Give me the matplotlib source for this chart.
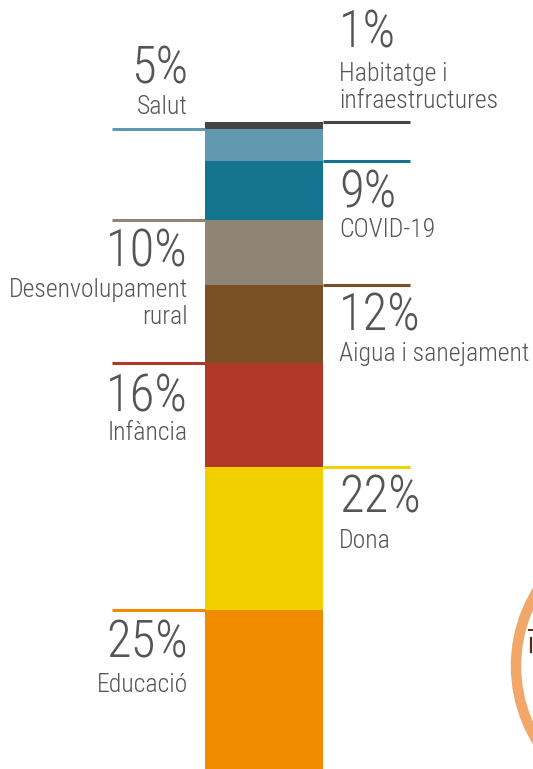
import matplotlib
matplotlib.use("Agg")
import matplotlib.pyplot as plt
from matplotlib.patches import Circle

# ---- data ----
categories = ["Educació", "Dona", "Infància", "Aigua i sanejament",
              "Desenvolupament\nrural", "COVID-19", "Salut",
              "Habitatge i\ninfraestructures"]
values = [25, 22, 16, 12, 10, 9, 5, 1]
pct_labels = ["25%", "22%", "16%", "12%", "10%", "9%", "5%", "1%"]
colors = ["#F18C00", "#F2D000", "#B13728", "#7B4F24",
          "#8E8575", "#12748F", "#6199B0", "#454545"]
sides = ["left", "right", "left", "right", "left", "right", "left", "right"]

# ---- layout (pixels) ----
W, H = 533, 769
DPI = 100
PX_PER_PCT = 6.5
BASE_PX = 772  # pixel row of value 0 (just below the figure)
TEXT_COLOR = "#555555"
FONT = ["Roboto Condensed", "Liberation Sans Narrow", "Roboto", "DejaVu Sans"]

fig = plt.figure(figsize=(W / DPI, H / DPI), dpi=DPI)
ax = fig.add_axes([0, 0, 1, 1])
ax.set_xlim(0, W)
ax.set_ylim((BASE_PX - H) / PX_PER_PCT, BASE_PX / PX_PER_PCT)
ax.axis("off")

bar_x, bar_w = 264, 118
bottom = 0
tops = []
for v, c in zip(values, colors):
    ax.bar(bar_x, v, bottom=bottom, width=bar_w, color=c, linewidth=0)
    bottom += v
    tops.append(bottom)
starts = [t - v for t, v in zip(tops, values)]

# offsets (pixels) of percent baseline / label baseline below segment top
pct_off = [48, 46, 49, 46, 47, 46, -45, -74]
lab_off = [82, 82, 77, 76, 105, 76, -15, -14]

left_x0, left_text_x = 112, 188
right_x1, right_text_x = 410, 339

for i, (s, v, c, side) in enumerate(zip(starts, values, colors, sides)):
    top = s + v
    if side == "left":
        ax.plot([left_x0, bar_x - bar_w / 2], [top, top], color=c, lw=2.2,
                solid_capstyle="butt")
        tx, ha = left_text_x, "right"
    else:
        ax.plot([bar_x + bar_w / 2, right_x1], [top, top], color=c, lw=2.2,
                solid_capstyle="butt")
        tx, ha = right_text_x, "left"
    ax.annotate(pct_labels[i], xy=(tx, top), xytext=(0, -pct_off[i]),
                textcoords="offset pixels", ha=ha, va="baseline",
                fontsize=36.5, color=TEXT_COLOR, family=FONT, weight="light")
    ax.annotate(categories[i], xy=(tx, top), xytext=(0, -lab_off[i]),
                textcoords="offset pixels", ha=ha, va="baseline",
                fontsize=18.5, color=TEXT_COLOR, family=FONT, weight="light",
                linespacing=1.18, multialignment=ha)

# partial logo ring at right edge
ov = fig.add_axes([0, 0, 1, 1], facecolor="none")
ov.set_xlim(0, W)
ov.set_ylim(H, 0)
ov.axis("off")
ov.add_patch(Circle((660, 666), 144, fill=False, edgecolor="#F1A262",
                    lw=7.5, alpha=0.95))
ov.plot([530.5, 530.5], [638, 652], color="#5A2A12", lw=1.6)
ov.plot([529, 533], [630, 630], color="#5A2A12", lw=1.4)

fig.savefig("out.png", dpi=DPI)
